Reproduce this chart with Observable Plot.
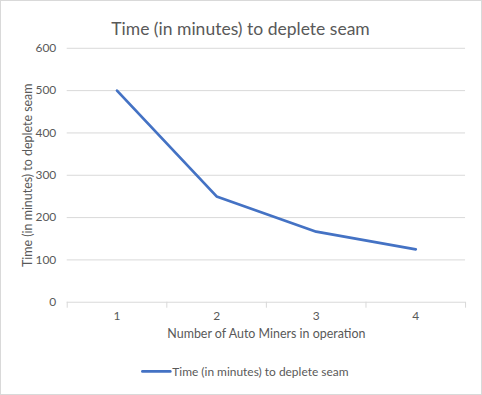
<!DOCTYPE html>
<html><head><meta charset="utf-8">
<script src="https://cdn.jsdelivr.net/npm/d3@7"></script>
<script src="https://cdn.jsdelivr.net/npm/@observablehq/plot@0.6"></script>
<style>
html,body{margin:0;padding:0;background:#fff;}
#chart{position:relative;width:480px;height:393px;border:1px solid #d9d9d9;overflow:hidden;}
#chart svg{position:absolute;left:-1px;top:-1px;}
</style>
</head><body><div id="chart"></div>
<script>
const miners = [1, 2, 3, 4];
const minutes = [500, 250, 166.67, 125];
const yTicks = [0, 100, 200, 300, 400, 500, 600];
const title = "Time (in minutes) to deplete seam";
const xLabel = "Number of Auto Miners in operation";
const yLabel = "Time (in minutes) to deplete seam";
const seriesName = "Time (in minutes) to deplete seam";

const data = miners.map((m, i) => ({m, v: minutes[i]}));
const boundaries = [0.5, 1.5, 2.5, 3.5, 4.5];
const font = "Lato, 'Open Sans', sans-serif";
const grey = "#595959";
const blue = "#4472c4";

const plot = Plot.plot({
  width: 482, height: 395,
  marginTop: 48, marginBottom: 92, marginLeft: 67, marginRight: 15,
  style: {fontFamily: font, fontSize: "12px", color: grey, background: "transparent"},
  x: {type: "linear", domain: [0.5, 4.5]},
  y: {domain: [0, 600]},
  marks: [
    Plot.gridY(yTicks, {stroke: "#d9d9d9", strokeOpacity: 1}),
    Plot.axisY(yTicks, {tickSize: 0, tickPadding: 11, fill: grey, fontSize: 12, label: null}),
    Plot.axisX(boundaries, {tickSize: 6, stroke: "#d9d9d9", tickFormat: () => "", label: null}),
    Plot.axisX(miners, {tickSize: 0, tickPadding: 9, fill: grey, fontSize: 12, label: null}),
    Plot.text([yLabel], {frameAnchor: "left", textAnchor: "middle", lineAnchor: "middle", rotate: -90, dx: -39, fontSize: 12.5, fill: grey, fontFamily: font}),
    Plot.text([xLabel], {frameAnchor: "bottom", dy: 36, fontSize: 12.5, fill: grey, fontFamily: font}),
    Plot.line(data, {x: "m", y: "v", stroke: blue, strokeWidth: 2.75, strokeLinejoin: "round", strokeLinecap: "round"}),
    Plot.text([title], {frameAnchor: "top", dx: -26, dy: -26, fontSize: 17.6, fill: grey, fontFamily: font})
  ]
});
document.getElementById("chart").appendChild(plot);

const svg = d3.select(plot);
const lg = svg.append("g");
lg.append("line").attr("x1", 143).attr("x2", 171).attr("y1", 373).attr("y2", 373)
  .attr("stroke", blue).attr("stroke-width", 2.75).attr("stroke-linecap", "round");
lg.append("text").attr("x", 173).attr("y", 373).attr("dy", "0.35em").attr("text-anchor", "start")
  .attr("fill", grey).attr("font-size", 12).attr("font-family", font).text(seriesName);
</script>
</body></html>
